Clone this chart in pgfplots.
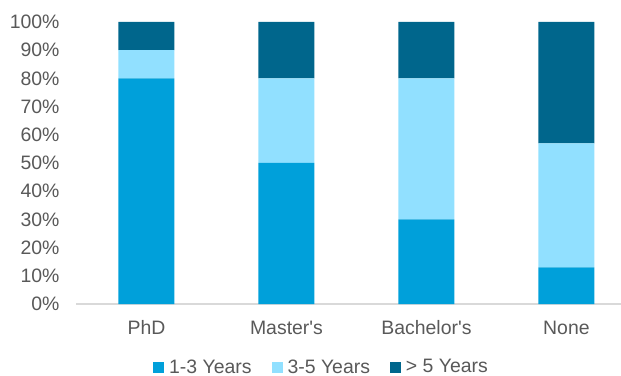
\documentclass[border=0pt]{standalone}
\usepackage{pgfplots}
\pgfplotsset{compat=1.18}
\usepackage{fontspec}
\setmainfont{Liberation Sans}[Ligatures=TeXOff]
\definecolor{c13}{RGB}{0,160,218}
\definecolor{c35}{RGB}{145,224,255}
\definecolor{c5}{RGB}{0,102,140}
\definecolor{txt}{RGB}{89,89,89}
\definecolor{base}{RGB}{217,217,217}
\begin{document}
\begin{tikzpicture}
\begin{axis}[
    scale only axis,
    width=544.5bp, height=282bp,
    ybar stacked,
    bar width=56bp,
    xmin=-0.5, xmax=3.39,
    ymin=0, ymax=100,
    xtick={0,1,2,3},
    xticklabels={PhD,Master's,Bachelor's,None},
    ytick={0,10,...,100},
    yticklabel={\pgfmathprintnumber{\tick}\%},
    /pgf/number format/assume math mode=true,
    axis line style={draw=none},
    axis x line*=bottom,
    axis y line*=left,
    major tick length=0pt,
    tick label style={font=\fontsize{19.5}{22}\selectfont, text=txt},
    xticklabel style={anchor=base, yshift=-30bp},
    yticklabel style={xshift=-13.5bp},
    legend style={at={(0.45,-0.2234)}, anchor=center, draw=none,
        font=\fontsize{19.5}{22}\selectfont, text=txt,
        legend columns=-1,
        /tikz/every odd column/.append style={column sep=3bp},
        /tikz/every even column/.append style={column sep=18bp}},
    legend image code/.code={\fill[#1] (0bp,-5.5bp) rectangle (11bp,5.5bp);},
    clip=false,
]
\addplot[fill=c13, draw=none] coordinates {(0,80) (1,50) (2,30) (3,13)};
\addplot[fill=c35, draw=none] coordinates {(0,10) (1,30) (2,50) (3,44)};
\addplot[fill=c5, draw=none] coordinates {(0,10) (1,20) (2,20) (3,43)};
\legend{1-3 Years,3-5 Years,> 5 Years}
\draw[base, line width=1.5bp] (axis cs:-0.5,0) -- (axis cs:3.39,0);
\end{axis}
\pgfresetboundingbox
\path[use as bounding box] (-76.5bp,-72bp) rectangle (544.5bp,304bp);
\end{tikzpicture}
\end{document}
